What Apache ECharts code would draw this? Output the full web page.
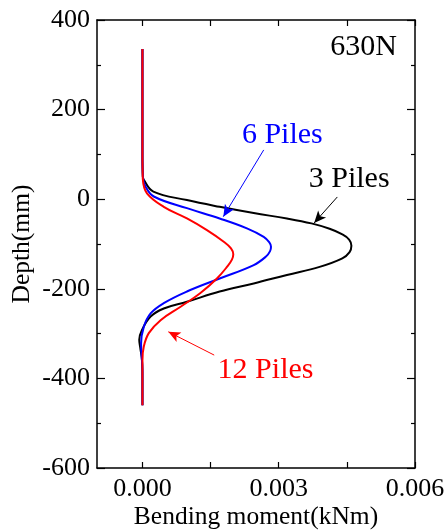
<!DOCTYPE html>
<html>
<head>
<meta charset="utf-8">
<script src="https://cdn.jsdelivr.net/npm/echarts@6/dist/echarts.min.js"></script>
<style>
  html, body { margin: 0; padding: 0; background: #fff; }
  #chart { width: 444px; height: 531px; }
</style>
</head>
<body>
<div id="chart"></div>
<script>
// depth (mm) and bending moment (kNm) for each pile group
const depth3 = [335, 100, 50, 43, 17, -2, -17, -31, -43, -54, -66, -78, -90, -104, -118, -132, -151, -169, -188, -206, -229, -244, -262, -292, -314, -330, -360, -400, -460];
const moment3 = [0, 0, 0.00001, 0.00003, 0.00024, 0.00098, 0.0017, 0.00245, 0.00318, 0.00372, 0.00412, 0.00439, 0.00455, 0.0046, 0.00456, 0.0044, 0.0039, 0.00318, 0.00245, 0.0017, 0.00098, 0.00047, 0.00018, -0.00001, -0.00007, -0.00005, -0.00001, 0, 0];

const depth6 = [335, 100, 50, 28, 6, -20, -43, -65, -84, -96, -106, -116, -128, -147, -177, -206, -232, -255, -285, -322, -345, -380, -460];
const moment6 = [0, 0, 0.00001, 0.00007, 0.00025, 0.00098, 0.0017, 0.0023, 0.00267, 0.00279, 0.00283, 0.00281, 0.00272, 0.00245, 0.0017, 0.00098, 0.00047, 0.00018, 0.00003, -0.00003, -0.00002, 0, 0];

const depth12 = [335, 100, 60, 43, 13, -17, -43, -69, -95, -110, -123, -135, -150, -177, -210, -240, -270, -299, -329, -360, -460];
const moment12 = [0, 0, 0.000005, 0.00001, 0.0001, 0.00047, 0.00098, 0.00142, 0.00179, 0.00195, 0.002, 0.00197, 0.00187, 0.00164, 0.00127, 0.00084, 0.0004, 0.00014, 0.00003, 0, 0];

const xTicks = [0, 0.0015, 0.003, 0.0045, 0.006];
const xLabels = [0, 0.003, 0.006];

// annotation labels [moment, depth]
const labelNames = ['6 Piles', '3 Piles', '12 Piles'];
const labelPos = [[0.00308, 143], [0.00455, 45], [0.00271, -382]];
// arrows: [start, tip]
const arrows = [
  [[0.00267, 110], [0.00178, -39]],
  [[0.00429, 5], [0.00378, -53]],
  [[0.00158, -348], [0.00057, -296]]
];
const colors = ['#0000ff', '#000000', '#ff0000'];

const font = 'Liberation Serif';

function pairs(xs, ys) {
  return xs.map((x, i) => [x, ys[i]]);
}

const chart = echarts.init(document.getElementById('chart'), null, { renderer: 'canvas' });

const axisLine = { onZero: false, lineStyle: { color: '#000', width: 1.5 } };
const tickStyle = { color: '#000', width: 1.2 };

const option = {
  animation: false,
  grid: { left: 97, right: 29, top: 20, bottom: 63, outerBoundsMode: 'none' },
  xAxis: [
    {
      type: 'value', min: -0.001, max: 0.006,
      axisLine: axisLine,
      splitLine: { show: false },
      axisTick: { inside: true, length: 6, customValues: xTicks, lineStyle: tickStyle },
      axisLabel: {
        customValues: xLabels, margin: 8,
        fontFamily: font, fontSize: 26, color: '#000',
        formatter: v => v.toFixed(3)
      },
      name: 'Bending moment(kNm)', nameLocation: 'middle', nameGap: 36,
      nameMoveOverlap: false,
      nameTextStyle: { fontFamily: font, fontSize: 25.5, color: '#000' }
    },
    {
      type: 'value', position: 'top', min: -0.001, max: 0.006,
      axisLine: axisLine,
      splitLine: { show: false },
      axisTick: { inside: true, length: 6, customValues: xTicks, lineStyle: tickStyle },
      axisLabel: { show: false }
    }
  ],
  yAxis: [
    {
      type: 'value', min: -600, max: 400, interval: 200,
      axisLine: axisLine,
      splitLine: { show: false },
      axisTick: { inside: true, length: 8, lineStyle: tickStyle },
      minorTick: { show: true, splitNumber: 2, length: 4, lineStyle: tickStyle },
      axisLabel: { margin: 7, fontFamily: font, fontSize: 26, color: '#000' },
      name: 'Depth(mm)', nameLocation: 'middle', nameGap: 62, nameRotate: 90,
      nameMoveOverlap: false,
      nameTextStyle: { fontFamily: font, fontSize: 25.5, color: '#000' }
    },
    {
      type: 'value', position: 'right', min: -600, max: 400, interval: 200,
      axisLine: axisLine,
      splitLine: { show: false },
      axisTick: { inside: true, length: 8, lineStyle: tickStyle },
      minorTick: { show: true, splitNumber: 2, length: 4, lineStyle: tickStyle },
      axisLabel: { show: false }
    }
  ],
  graphic: [
    {
      type: 'text', right: 444 - 397, top: 32,
      style: { text: '630N', fontFamily: font, fontSize: 30, fill: '#000' }
    }
  ],
  series: [
    {
      name: '3 Piles', type: 'line', data: pairs(moment3, depth3),
      smooth: 0.4, showSymbol: false, lineStyle: { color: '#000', width: 2 }
    },
    {
      name: '6 Piles', type: 'line', data: pairs(moment6, depth6),
      smooth: 0.4, showSymbol: false, lineStyle: { color: '#0000ff', width: 2 }
    },
    {
      name: '12 Piles', type: 'line', data: pairs(moment12, depth12),
      smooth: 0.4, showSymbol: false, lineStyle: { color: '#ff0000', width: 2 }
    },
    {
      // annotations
      type: 'scatter', symbolSize: 0, silent: true,
      itemStyle: { opacity: 1 },
      data: labelNames.map((n, i) => ({
        value: labelPos[i],
        label: {
          show: true, position: 'inside', formatter: n,
          fontFamily: font, fontSize: 30, color: colors[i],
          textBorderWidth: 0, opacity: 1
        }
      })),
      markLine: {
        silent: true, symbol: ['none', 'arrow'], symbolSize: [8, 12],
        label: { show: false },
        data: arrows.map((a, i) => [
          { coord: a[0], lineStyle: { color: colors[i], width: 1, type: 'solid', opacity: 1 } },
          { coord: a[1] }
        ])
      }
    }
  ]
};

chart.setOption(option);
</script>
</body>
</html>
